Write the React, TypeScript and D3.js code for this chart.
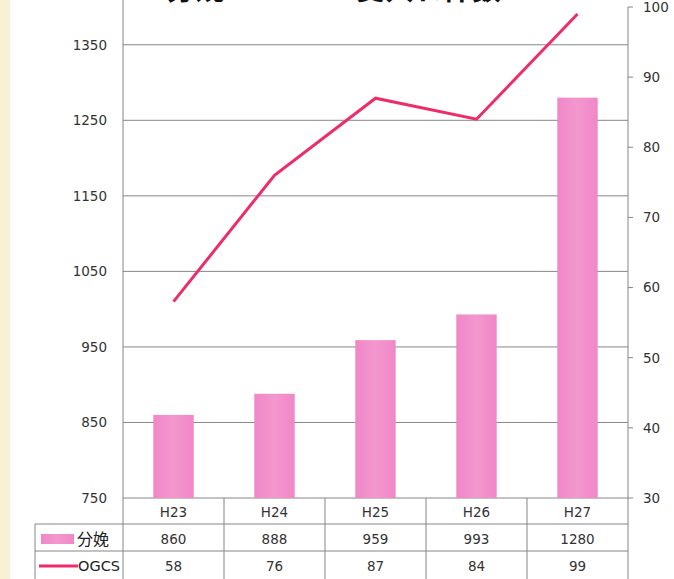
import React, { useEffect, useRef } from 'react';
import * as d3 from 'd3';

const categories = ['H23', 'H24', 'H25', 'H26', 'H27'];
const births = [860, 888, 959, 993, 1280];
const ogcs = [58, 76, 87, 84, 99];
const leftTicks = [750, 850, 950, 1050, 1150, 1250, 1350];
const rightTicks = [30, 40, 50, 60, 70, 80, 90, 100];

const width = 674;
const height = 579;

const App: React.FC = () => {
    const ref = useRef<SVGSVGElement>(null);

    useEffect(() => {
        const svg = d3.select(ref.current);
        svg.selectAll('*').remove();

        const left = 123;
        const right = 628;
        const top = 7;
        const bottom = 498;
        const gray = '#868686';
        const font = "'DejaVu Sans', Verdana, sans-serif";

        const x = d3.scaleBand<string>()
            .domain(categories)
            .range([left, right])
            .paddingInner(0.6)
            .paddingOuter(0.3);
        const yL = d3.scaleLinear().domain([750, 1400]).range([bottom, top]);
        const yR = d3.scaleLinear().domain([30, 100]).range([bottom, top]);

        // background + cream strip on the left
        svg.append('rect').attr('width', width).attr('height', height).attr('fill', '#ffffff');
        svg.append('rect').attr('width', 10).attr('height', height).attr('fill', '#FAF1D5');

        const defs = svg.append('defs');
        const grad = defs.append('linearGradient').attr('id', 'barGrad')
            .attr('x1', '0%').attr('x2', '100%').attr('y1', '0%').attr('y2', '0%');
        grad.append('stop').attr('offset', '0%').attr('stop-color', '#F087C7');
        grad.append('stop').attr('offset', '50%').attr('stop-color', '#F397CE');
        grad.append('stop').attr('offset', '100%').attr('stop-color', '#F087C7');

        // title (cut off at the top, only the bottoms of the glyphs show)
        const title = svg.append('g')
            .attr('font-family', "'Noto Sans CJK JP', sans-serif")
            .attr('font-size', 29)
            .attr('font-weight', 'bold')
            .attr('fill', '#111');
        title.append('text').attr('x', 166).attr('y', 0).text('分娩');
        title.append('text').attr('x', 356).attr('y', 0).text('受入れ件数');

        // gridlines
        svg.append('g').selectAll('line')
            .data(leftTicks)
            .enter()
            .append('line')
            .attr('x1', left).attr('x2', right)
            .attr('y1', d => yL(d)).attr('y2', d => yL(d))
            .attr('stroke', gray).attr('stroke-width', 1);

        // bars
        svg.append('g').selectAll('rect')
            .data(births)
            .enter()
            .append('rect')
            .attr('x', (d, i) => x(categories[i]) as number)
            .attr('width', x.bandwidth())
            .attr('y', d => yL(d))
            .attr('height', d => bottom - yL(d))
            .attr('fill', 'url(#barGrad)');

        // axes lines
        svg.append('line').attr('x1', left).attr('x2', left).attr('y1', 0).attr('y2', height)
            .attr('stroke', gray);
        svg.append('line').attr('x1', right).attr('x2', right).attr('y1', top).attr('y2', height)
            .attr('stroke', gray);

        // left tick labels
        svg.append('g').selectAll('text')
            .data(leftTicks)
            .enter()
            .append('text')
            .attr('x', 107)
            .attr('y', d => yL(d))
            .attr('dy', '0.36em')
            .attr('text-anchor', 'end')
            .attr('font-family', font)
            .attr('font-size', 13.5)
            .attr('fill', '#333')
            .text(d => d);

        // right ticks
        const rt = svg.append('g').selectAll('g')
            .data(rightTicks)
            .enter()
            .append('g');
        rt.append('line')
            .attr('x1', right).attr('x2', right + 5)
            .attr('y1', d => yR(d)).attr('y2', d => yR(d))
            .attr('stroke', gray);
        rt.append('text')
            .attr('x', 643)
            .attr('y', d => yR(d))
            .attr('dy', '0.36em')
            .attr('font-family', font)
            .attr('font-size', 13.5)
            .attr('fill', '#333')
            .text(d => d);

        // OGCS line
        const line = d3.line<number>()
            .x((d, i) => (x(categories[i]) as number) + x.bandwidth() / 2)
            .y(d => yR(d));
        svg.append('path')
            .datum(ogcs)
            .attr('d', line)
            .attr('fill', 'none')
            .attr('stroke', '#EE2D68')
            .attr('stroke-width', 3)
            .attr('stroke-linejoin', 'miter');

        // data table
        const rowTop = [bottom, 524, 551];
        const rowMid = [512, 539, 566];
        const tableLeft = 35;
        const table = svg.append('g').attr('stroke', gray).attr('stroke-width', 1);
        table.append('line').attr('x1', tableLeft).attr('x2', right)
            .attr('y1', rowTop[1]).attr('y2', rowTop[1]);
        table.append('line').attr('x1', tableLeft).attr('x2', right)
            .attr('y1', rowTop[2]).attr('y2', rowTop[2]);
        table.append('line').attr('x1', tableLeft).attr('x2', tableLeft)
            .attr('y1', rowTop[1]).attr('y2', height);
        table.selectAll('line.col')
            .data(categories.slice(1))
            .enter()
            .append('line')
            .attr('class', 'col')
            .attr('x1', d => (x(d) as number) - x.step() * x.paddingInner() / 2)
            .attr('x2', d => (x(d) as number) - x.step() * x.paddingInner() / 2)
            .attr('y1', bottom).attr('y2', height);

        const rows = [categories, births, ogcs];
        rows.forEach((row, r) => {
            svg.append('g').selectAll('text')
                .data(row as (string | number)[])
                .enter()
                .append('text')
                .attr('x', (d, i) => (x(categories[i]) as number) + x.bandwidth() / 2)
                .attr('y', rowMid[r])
                .attr('dy', '0.36em')
                .attr('text-anchor', 'middle')
                .attr('font-family', font)
                .attr('font-size', 13.5)
                .attr('fill', '#333')
                .text(d => d);
        });

        // legend keys in table
        svg.append('rect').attr('x', 41).attr('y', 534).attr('width', 33).attr('height', 10)
            .attr('fill', 'url(#barGrad)');
        svg.append('text').attr('x', 77).attr('y', rowMid[1]).attr('dy', '0.36em')
            .attr('font-family', "'Noto Sans CJK JP', sans-serif")
            .attr('font-size', 16).attr('fill', '#222').text('分娩');
        svg.append('line').attr('x1', 39).attr('x2', 78).attr('y1', 566).attr('y2', 566)
            .attr('stroke', '#EE2D68').attr('stroke-width', 3);
        svg.append('text').attr('x', 78).attr('y', rowMid[2]).attr('dy', '0.36em')
            .attr('font-family', font)
            .attr('font-size', 14.5).attr('fill', '#222').text('OGCS');
    }, []);

    return <svg ref={ref} width={width} height={height}
        style={{ position: 'absolute', left: 0, top: 0 }}></svg>;
};

export default App;
